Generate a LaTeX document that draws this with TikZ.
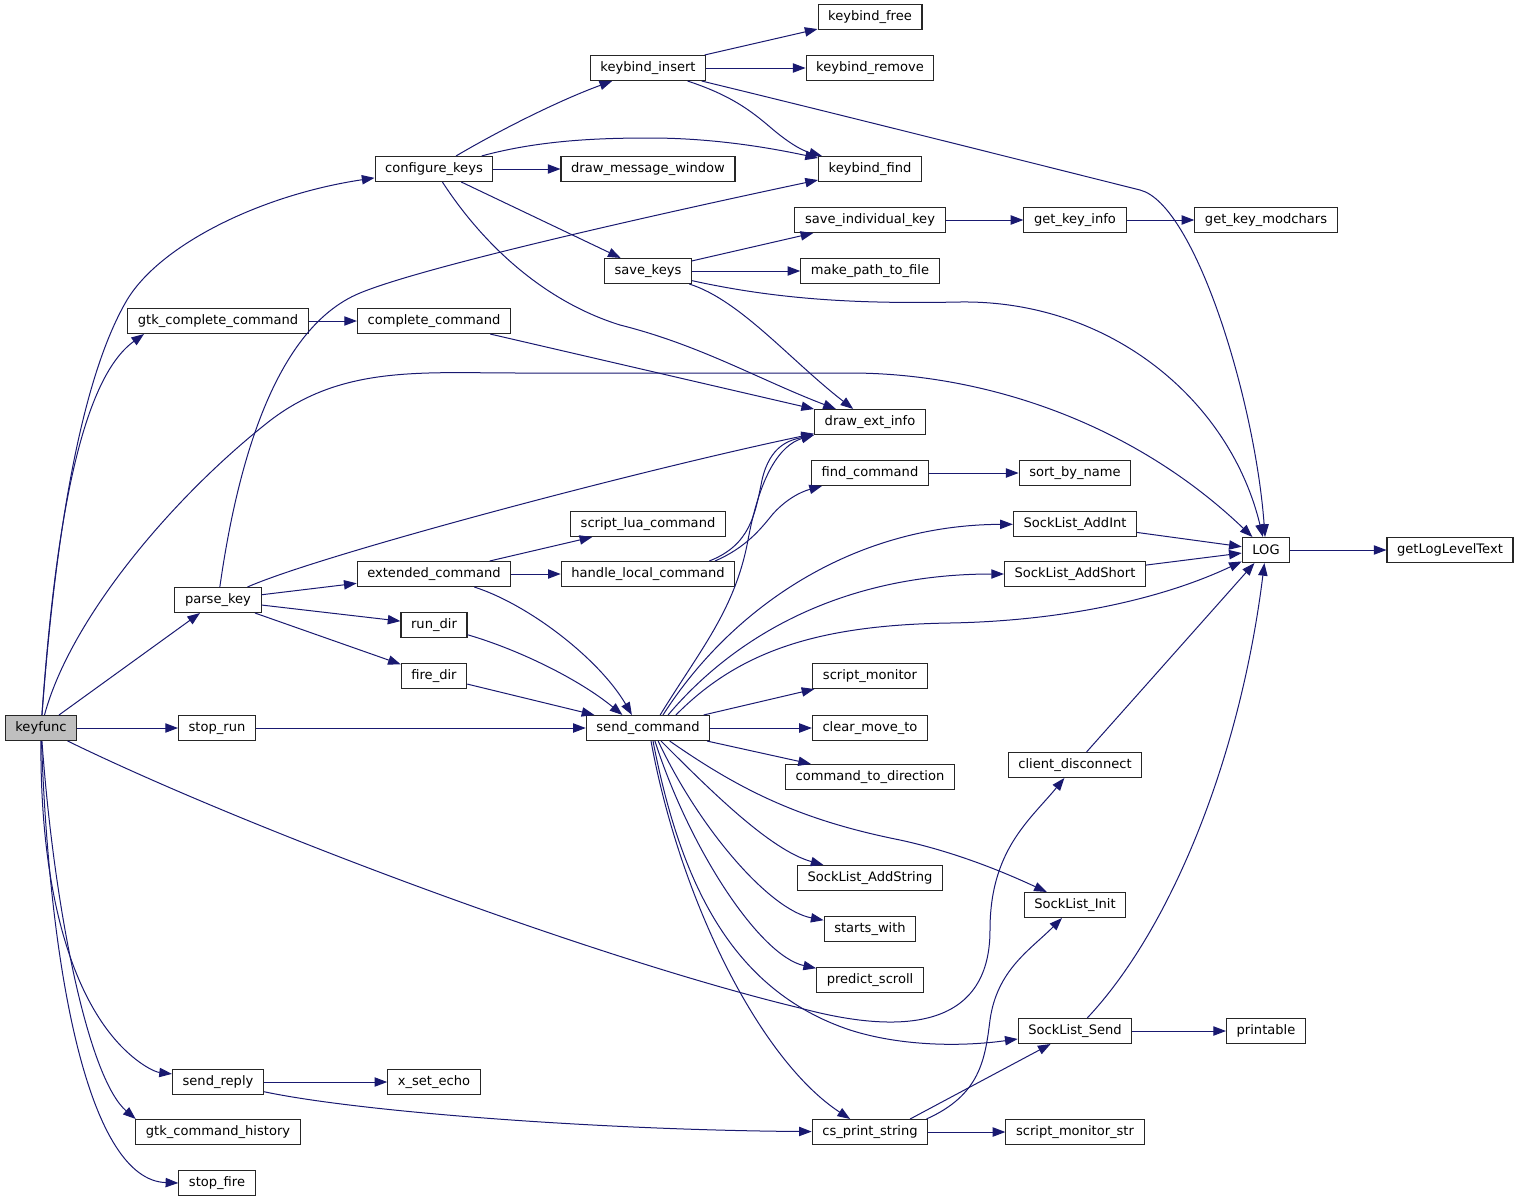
\documentclass[tikz,border=0pt]{standalone}
\usepackage{fontspec}
\setmainfont{DejaVu Sans}
\usetikzlibrary{arrows.meta}
\definecolor{edgeblue}{RGB}{25,25,112}
\definecolor{rootgray}{RGB}{191,191,191}
\tikzset{
  fn/.style={draw=black!85, line width=0.8pt, rectangle, inner xsep=7.6pt, inner ysep=0pt,
    minimum height=18.75pt, font=\fontsize{9.8}{11}\selectfont},
  call/.style={draw=edgeblue, line width=0.75pt, -{Triangle[length=9.5pt,width=7pt]}}
}
\begin{document}
\begin{tikzpicture}[x=0.75pt,y=-0.75pt]
  \useasboundingbox (0,0) rectangle (1520,1203);
  \draw
    (41,728) node[fn,fill=rootgray] (keyfunc){keyfunc}
    (434,169) node[fn] (configurekeys){configure\_keys}
    (218,321) node[fn] (gtkcomplete){gtk\_complete\_command}
    (218,600) node[fn] (parsekey){parse\_key}
    (217,728) node[fn] (stoprun){stop\_run}
    (218,1082) node[fn] (sendreply){send\_reply}
    (218,1132) node[fn] (gtkhistory){gtk\_command\_history}
    (217,1183) node[fn] (stopfire){stop\_fire}
    (648,68) node[fn] (kbinsert){keybind\_insert}
    (648,169) node[fn] (drawmsg){draw\_message\_window}
    (648,271) node[fn] (savekeys){save\_keys}
    (434,321) node[fn] (completecmd){complete\_command}
    (434,574) node[fn] (extendedcmd){extended\_command}
    (434,625) node[fn] (rundir){run\_dir}
    (434,676) node[fn] (firedir){fire\_dir}
    (434,1082) node[fn] (xsetecho){x\_set\_echo}
    (648,524) node[fn] (scriptlua){script\_lua\_command}
    (648,574) node[fn] (handlelocal){handle\_local\_command}
    (648,728) node[fn] (sendcmd){send\_command}
    (870,1132) node[fn] (csprint){cs\_print\_string}
    (870,17) node[fn] (kbfree){keybind\_free}
    (870,68) node[fn] (kbremove){keybind\_remove}
    (870,169) node[fn] (kbfind){keybind\_find}
    (870,220) node[fn] (saveindiv){save\_individual\_key}
    (870,271) node[fn] (makepath){make\_path\_to\_file}
    (870,422) node[fn] (drawext){draw\_ext\_info}
    (870,473) node[fn] (findcmd){find\_command}
    (870,676) node[fn] (scriptmon){script\_monitor}
    (870,728) node[fn] (clearmove){clear\_move\_to}
    (870,777) node[fn] (cmddir){command\_to\_direction}
    (870,878) node[fn] (slstring){SockList\_AddString}
    (870,929) node[fn] (startswith){starts\_with}
    (870,980) node[fn] (predict){predict\_scroll}
    (1075,220) node[fn] (getkeyinfo){get\_key\_info}
    (1075,473) node[fn] (sortbyname){sort\_by\_name}
    (1075,524) node[fn] (slint){SockList\_AddInt}
    (1075,574) node[fn] (slshort){SockList\_AddShort}
    (1075,765) node[fn] (clientdisc){client\_disconnect}
    (1075,905) node[fn] (slinit){SockList\_Init}
    (1075,1031) node[fn] (slsend){SockList\_Send}
    (1075,1132) node[fn] (monstr){script\_monitor\_str}
    (1266,220) node[fn] (modchars){get\_key\_modchars}
    (1266,550) node[fn] (log){LOG}
    (1266,1031) node[fn] (printable){printable}
    (1450,550) node[fn] (loglevel){getLogLevelText};
  \begin{scope}[call]
    % keyfunc
    \draw (keyfunc) .. controls (55,540) and (80,380) .. (127,300) .. controls (160,245) and (260,195) .. (configurekeys);
    \draw (keyfunc) .. controls (55,530) and (80,380) .. (gtkcomplete.190);
    \draw (keyfunc) .. controls (70,620) and (170,500) .. (267,423) .. controls (340,365) and (420,373) .. (520,373)
      -- (850,373) .. controls (980,373) and (1130,420) .. (log);
    \draw (keyfunc) to (parsekey);
    \draw (keyfunc) to (stoprun);
    \draw (keyfunc) .. controls (250,830) and (600,960) .. (800,1008) .. controls (900,1035) and (990,1030) .. (990,930)
      .. controls (990,850) and (1030,820) .. (clientdisc);
    \draw (keyfunc) .. controls (40,900) and (75,1000) .. (123,1048) .. controls (140,1065) and (155,1072) .. (sendreply.170);
    \draw (keyfunc) .. controls (55,920) and (90,1080) .. (gtkhistory.171);
    \draw (keyfunc) .. controls (50,980) and (90,1180) .. (stopfire.west);
    % configure_keys
    \draw (configurekeys) .. controls (500,130) and (560,100) .. (kbinsert);
    \draw (configurekeys) .. controls (540,140) and (600,138) .. (650,138) .. controls (720,138) and (780,150) .. (kbfind);
    \draw (configurekeys) to (drawmsg);
    \draw (configurekeys) to (savekeys);
    \draw (configurekeys) .. controls (480,240) and (540,300) .. (620,325) .. controls (700,345) and (760,380) .. (drawext);
    % keybind_insert
    \draw (kbinsert) to (kbfree);
    \draw (kbinsert) to (kbremove);
    \draw (kbinsert) .. controls (730,95) and (750,110) .. (770,127) .. controls (785,140) and (800,150) .. (kbfind);
    \draw (kbinsert) .. controls (850,117) and (1080,175) .. (1140,190) .. controls (1195,204) and (1255,400) .. (log);
    % save_keys
    \draw (savekeys) to (saveindiv);
    \draw (savekeys) to (makepath);
    \draw (savekeys) .. controls (780,300) and (860,304) .. (960,302) .. controls (1110,300) and (1230,400) .. (log);
    \draw (savekeys) .. controls (740,300) and (790,360) .. (drawext);
    \draw (saveindiv) to (getkeyinfo);
    \draw (getkeyinfo) to (modchars);
    \draw (gtkcomplete) to (completecmd);
    \draw (completecmd) to (drawext);
    % parse_key
    \draw (parsekey) .. controls (235,480) and (270,330) .. (360,293) .. controls (430,264) and (700,205) .. (kbfind);
    \draw (parsekey) .. controls (320,555) and (640,470) .. (drawext);
    \draw (parsekey) to (extendedcmd);
    \draw (parsekey) to (rundir);
    \draw (parsekey) to (firedir);
    % extended_command
    \draw (extendedcmd) to (scriptlua);
    \draw (extendedcmd) to (handlelocal);
    \draw (extendedcmd) .. controls (530,605) and (600,660) .. (sendcmd.141);
    \draw (handlelocal.12) .. controls (750,545) and (755,515) .. (762,480) .. controls (770,445) and (790,440) .. (drawext.193);
    \draw (handlelocal.11) .. controls (745,548) and (760,530) .. (772,515) .. controls (785,500) and (800,492) .. (findcmd);
    \draw (findcmd) to (sortbyname);
    \draw (rundir) .. controls (520,650) and (580,680) .. (sendcmd.153);
    \draw (firedir) to (sendcmd);
    \draw (stoprun) to (sendcmd);
    % send_command
    \draw (sendcmd.47) .. controls (700,650) and (735,610) .. (748,540) .. controls (760,475) and (780,445) .. (drawext.193);
    \draw (sendcmd.41) .. controls (730,610) and (850,525) .. (slint);
    \draw (sendcmd.33) .. controls (740,630) and (850,574) .. (slshort);
    \draw (sendcmd.25) .. controls (740,650) and (820,625) .. (950,623) .. controls (1060,621) and (1160,600) .. (log);
    \draw (sendcmd) to (scriptmon);
    \draw (sendcmd) to (clearmove);
    \draw (sendcmd) to (cmddir);
    \draw (sendcmd.329) .. controls (740,790) and (800,820) .. (900,840) .. controls (960,853) and (1010,875) .. (slinit);
    \draw (sendcmd.315) .. controls (710,790) and (770,850) .. (slstring);
    \draw (sendcmd.308) .. controls (700,830) and (770,910) .. (startswith);
    \draw (sendcmd.298) .. controls (690,850) and (760,956) .. (predict);
    \draw (sendcmd.291) .. controls (680,880) and (730,990) .. (850,1030) .. controls (900,1046) and (960,1047) .. (slsend);
    \draw (sendcmd.283) .. controls (680,900) and (760,1060) .. (csprint);
    % LOG and sockets
    \draw (slint) to (log);
    \draw (slshort) to (log);
    \draw (clientdisc) to (log);
    \draw (slsend) .. controls (1170,930) and (1240,760) .. (log);
    \draw (slsend) to (printable);
    \draw (log) to (loglevel);
    % send_reply, cs_print_string
    \draw (sendreply) to (xsetecho);
    \draw (sendreply) .. controls (360,1112) and (600,1130) .. (csprint);
    \draw (csprint.13) .. controls (980,1095) and (985,1060) .. (990,1020) .. controls (997,970) and (1030,950) .. (slinit);
    \draw (csprint.18) to (slsend);
    \draw (csprint) to (monstr);
  \end{scope}
\end{tikzpicture}
\end{document}
